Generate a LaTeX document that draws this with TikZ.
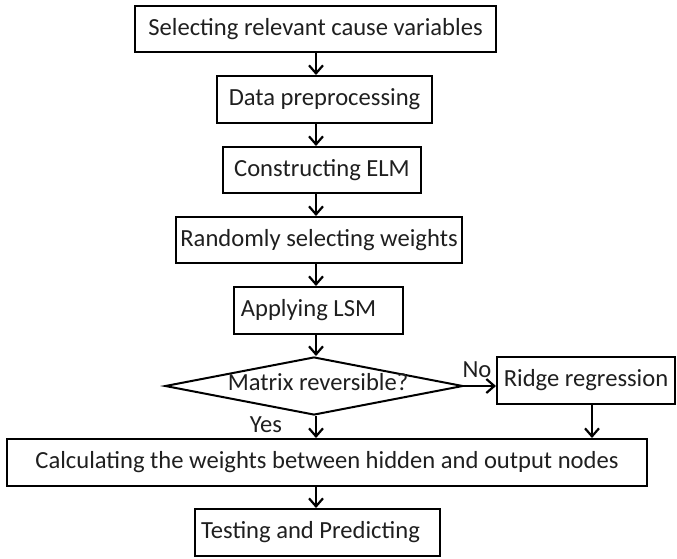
\documentclass[tikz,border=0pt]{standalone}
\usepackage{fontspec}
\setmainfont{Carlito}
\usetikzlibrary{arrows.meta,shapes.geometric}
\begin{document}
\begin{tikzpicture}[x=1pt,y=-1pt,
  every node/.style={font=\fontsize{24.6}{28}\selectfont, text=black!88},
  box/.style={draw, line width=2pt, inner sep=0pt, anchor=center},
  arr/.style={line width=2pt, -{Straight Barb[length=8pt,width=14pt,line width=2.2pt]}},
  lbl/.style={inner sep=0pt}]
\useasboundingbox (0,0) rectangle (677,558);
\coordinate (ax) at (316,0);
\node[box, minimum width=361pt, minimum height=46pt] (b1) at (315.5,29) {Selecting relevant cause variables};
\node[box, minimum width=215pt, minimum height=47pt] (b2) at (324.5,99.5) {Data preprocessing};
\node[box, minimum width=198pt, minimum height=46pt] (b3) at (322,170) {Constructing ELM};
\node[box, minimum width=286pt, minimum height=46pt] (b4) at (319,240) {Randomly selecting weights};
\node[box, minimum width=169pt, minimum height=47pt] (b5) at (318.5,310.5) {Applying LSM\hspace*{20pt}};
\node[box, diamond, minimum width=298pt, minimum height=58pt] (d) at (314,386) {};
\node[lbl] (dt) at (318,382) {Matrix reversible?};
\node[box, minimum width=178pt, minimum height=47pt] (r) at (586,380.5) {Ridge regression};
\node[box, minimum width=640pt, minimum height=47pt] (b8) at (327,462.5) {Calculating the weights between hidden and output nodes};
\node[box, minimum width=245pt, minimum height=47pt] (b9) at (317.5,532.5) {Testing and Predicting\hspace*{14pt}};
\node[lbl] (yes) at (266,425) {Yes};
\node[lbl] (no) at (477,370) {No};
\coordinate (rx) at (592,0);
\draw[arr] (b1.south -| ax) -- (b2.north -| ax);
\draw[arr] (b2.south -| ax) -- (b3.north -| ax);
\draw[arr] (b3.south -| ax) -- (b4.north -| ax);
\draw[arr] (b4.south -| ax) -- (b5.north -| ax);
\draw[arr] (b5.south -| ax) -- (d.north -| ax);
\draw[arr] (d.south -| ax) -- (b8.north -| ax);
\draw[arr] (d.east) -- (d.east -| r.west);
\draw[arr] (r.south -| rx) -- (b8.north -| rx);
\draw[arr] (b8.south -| ax) -- (b9.north -| ax);
\end{tikzpicture}
\end{document}
